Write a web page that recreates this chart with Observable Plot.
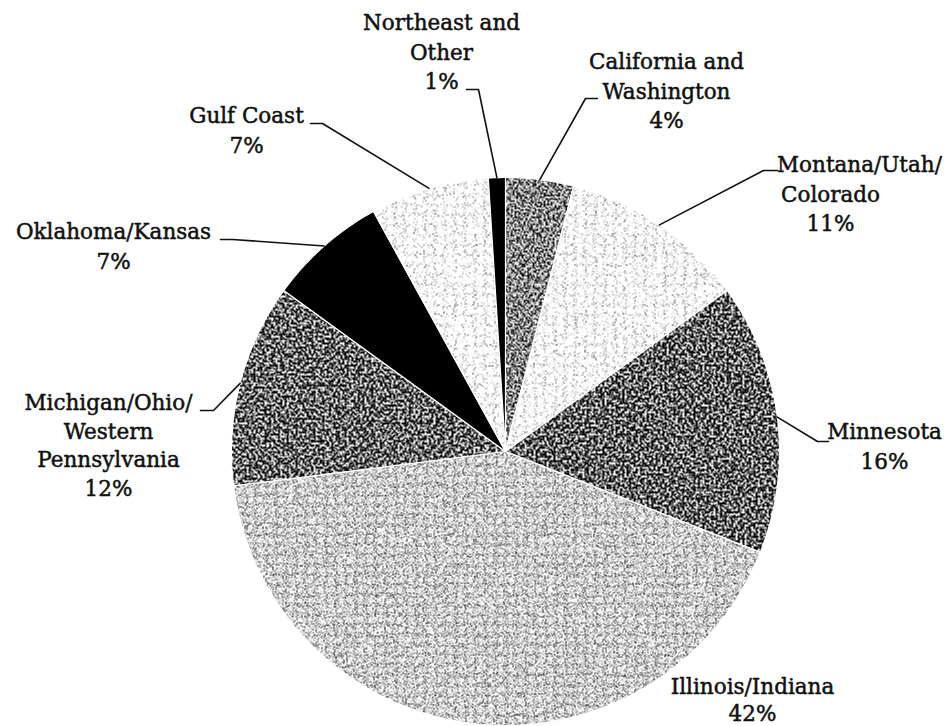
<!DOCTYPE html>
<html>
<head>
<meta charset="utf-8">
<script src="https://cdn.jsdelivr.net/npm/d3@7"></script>
<script src="https://cdn.jsdelivr.net/npm/@observablehq/plot@0.6"></script>
<style>
  html, body { margin: 0; padding: 0; background: #fff; }
  #chart svg { display: block; }
</style>
</head>
<body>
<div id="chart"></div>
<script>
// ---- data ----
const regions = [
  "California and\nWashington",
  "Montana/Utah/\nColorado",
  "Minnesota",
  "Illinois/Indiana",
  "Michigan/Ohio/\nWestern\nPennsylvania",
  "Oklahoma/Kansas",
  "Gulf Coast",
  "Northeast and\nOther"
];
const shares = [4, 11, 16, 42, 12, 7, 7, 1];
const pctLabels = ["4%", "11%", "16%", "42%", "12%", "7%", "7%", "1%"];

// ---- styles (stipple tone, contrast, grain frequency) ----
const sliceStyles = [
  {g: 0.55, c: 7, f: 0.55},   // California
  {g: 1.6,  c: 6, f: 0.9},    // Montana
  {g: 0.32, c: 7, f: 0.45},   // Minnesota
  {g: 1.05, c: 6, f: 0.9},    // Illinois
  {g: 0.35, c: 7, f: 0.45},   // Michigan
  {g: 0.0,  c: 0, f: 0},      // Oklahoma (solid black)
  {g: 1.6,  c: 6, f: 0.9},    // Gulf Coast
  {g: 0.0,  c: 0, f: 0}       // Northeast (solid black)
];

// ---- layout (pixels) ----
const W = 950, H = 726, CX = 505, CY = 451, R = 274, GAP = 29.5, FONT = 21.5;
const labelLayout = [
  {x: 666, y: 62,  dx0: 0,  gap: GAP, elbow: [[597, 98], [585, 98]]},
  {x: 830, y: 165, dx0: 29, gap: GAP, elbow: [[777, 170], [763, 170]]},
  {x: 884, y: 432, dx0: 0,  gap: GAP, elbow: [[828, 441], [817, 441]]},
  {x: 752, y: 687, dx0: 0,  gap: 27,  elbow: null},
  {x: 108, y: 403, dx0: 0,  gap: 28.5, elbow: [[200, 410], [213, 410]]},
  {x: 113, y: 232, dx0: 0,  gap: GAP, elbow: [[220, 239], [232, 239]]},
  {x: 246, y: 116, dx0: 0,  gap: GAP, elbow: [[310, 123], [322, 123]]},
  {x: 441, y: 23,  dx0: 0,  gap: GAP, elbow: [[466, 89], [478, 89]]}
];

const toX = px => (px - CX) / R;
const toY = py => (CY - py) / R;

// ---- geometry from data ----
const arcs = d3.pie().sort(null).value(d => d)(shares);
const slicePts = arcs.flatMap((p, i) => {
  const n = Math.max(2, Math.ceil((p.endAngle - p.startAngle) / (Math.PI / 360)));
  const pts = [{x: 0, y: 0, i}];
  for (let k = 0; k <= n; k++) {
    const a = p.startAngle + (p.endAngle - p.startAngle) * k / n;
    pts.push({x: Math.sin(a), y: Math.cos(a), i});
  }
  return pts;
});
const sliceFill = sliceStyles.map((s, i) => s.c === 0 ? "#000" : `url(#stip${i})`);

const leaderPts = [];
labelLayout.forEach((l, i) => {
  if (!l.elbow) return;
  l.elbow.forEach(([px, py]) => leaderPts.push({x: toX(px), y: toY(py), i}));
  const mid = (arcs[i].startAngle + arcs[i].endAngle) / 2;
  leaderPts.push({x: Math.sin(mid), y: Math.cos(mid), i});
});

const textRows = [];
labelLayout.forEach((l, i) => {
  const lines = regions[i].split("\n").concat(pctLabels[i]);
  lines.forEach((t, j) => textRows.push({
    text: t,
    x: toX(l.x + (j === 0 ? l.dx0 : 0)),
    y: toY(l.y + j * l.gap)
  }));
});

const svg = Plot.plot({
  width: W,
  height: H,
  margin: 0,
  x: {domain: [toX(0), toX(W)], axis: null},
  y: {domain: [toY(H), toY(0)], axis: null},
  color: {type: "identity"},
  marks: [
    Plot.line(slicePts, {x: "x", y: "y", z: "i", fill: d => sliceFill[d.i],
      stroke: "white", strokeWidth: 1.2, curve: "linear-closed"}),
    Plot.line(leaderPts, {x: "x", y: "y", z: "i", stroke: "#111", strokeWidth: 1.6}),
    Plot.text(textRows, {x: "x", y: "y", text: "text", fill: "#111",
      stroke: "#111", strokeWidth: 0.5, fontFamily: "DejaVu Serif", fontSize: FONT})
  ]
});

// stipple textures
const ns = "http://www.w3.org/2000/svg";
const defs = document.createElementNS(ns, "defs");
let html = "";
sliceStyles.forEach((s, i) => {
  if (s.c === 0) return;
  const off = s.g - 0.5 * s.c;
  html += `<filter id="nf${i}" filterUnits="userSpaceOnUse" x="0" y="0" width="${W}" height="${H}" color-interpolation-filters="sRGB">
    <feTurbulence type="fractalNoise" baseFrequency="${s.f}" numOctaves="1" seed="${i * 7 + 3}"/>
    <feColorMatrix type="matrix" values="${s.c} 0 0 0 ${off}  ${s.c} 0 0 0 ${off}  ${s.c} 0 0 0 ${off}  0 0 0 0 1"/>
  </filter>
  <pattern id="stip${i}" patternUnits="userSpaceOnUse" x="0" y="0" width="${W}" height="${H}">
    <rect width="${W}" height="${H}" fill="#888" filter="url(#nf${i})"/>
  </pattern>`;
});
defs.innerHTML = html;
svg.insertBefore(defs, svg.firstChild);
document.getElementById("chart").appendChild(svg);
</script>
</body>
</html>
